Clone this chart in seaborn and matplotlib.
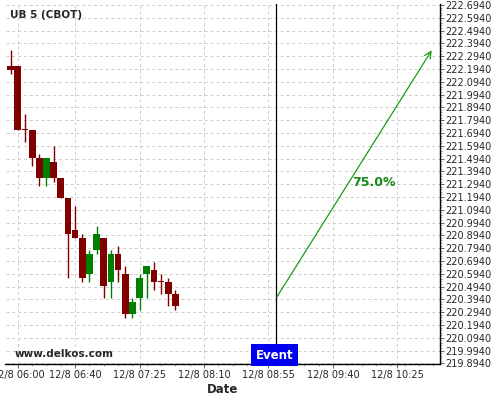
import seaborn as sns
import pandas as pd
import numpy as np
import matplotlib.pyplot as plt
from matplotlib.ticker import AutoMinorLocator, MultipleLocator
import matplotlib.transforms as mtransforms

# 5-minute candles, time in minutes after 12/8 06:00
minutes = [-5, 0, 5, 10, 15, 20, 25, 30, 35, 40, 45, 50,
           55, 60, 65, 70, 75, 80, 85, 90, 95, 100, 105, 110]
opens = [222.21875, 222.21875, 221.71875, 221.71875, 221.5, 221.34375,
         221.46875, 221.34375, 221.1875, 220.9375, 220.875, 220.59375,
         220.78125, 220.875, 220.53125, 220.75, 220.59375, 220.28125,
         220.40625, 220.59375, 220.625, 220.53125, 220.53125, 220.4375]
highs = [222.34375, 222.21875, 221.84375, 221.71875, 221.53125, 221.5,
         221.59375, 221.34375, 221.1875, 221.125, 220.90625, 220.78125,
         220.96875, 220.875, 220.78125, 220.8125, 220.65625, 220.40625,
         220.59375, 220.65625, 220.6875, 220.59375, 220.5625, 220.46875]
lows = [222.15625, 221.71875, 221.625, 221.4375, 221.28125, 221.28125,
        221.3125, 221.1875, 220.5625, 220.875, 220.53125, 220.53125,
        220.75, 220.40625, 220.40625, 220.53125, 220.25, 220.25,
        220.3125, 220.40625, 220.46875, 220.4375, 220.34375, 220.3125]
closes = [222.1875, 221.71875, 221.71875, 221.5, 221.34375, 221.5,
          221.34375, 221.1875, 220.90625, 220.875, 220.5625, 220.75,
          220.90625, 220.5, 220.75, 220.625, 220.28125, 220.375,
          220.5625, 220.65625, 220.53125, 220.53125, 220.4375, 220.34375]

tick_minutes = [0, 40, 85, 130, 175, 220, 265]
tick_labels = ["12/8 06:00", "12/8 06:40", "12/8 07:25", "12/8 08:10",
               "12/8 08:55", "12/8 09:40", "12/8 10:25"]
y_ticks = [219.894 + 0.1 * i for i in range(29)]

event_minute = 180
arrow_start = 220.397
arrow_end_minute = 290
arrow_end = 222.358
pct_label = "75.0%"

df = pd.DataFrame({"t": minutes, "open": opens, "high": highs,
                   "low": lows, "close": closes})
df["up"] = df["close"] > df["open"]
df["color"] = np.where(df["up"], "#008000", "#800000")
df["bottom"] = df[["open", "close"]].min(axis=1)
df["height"] = (df["close"] - df["open"]).abs().clip(lower=0.008)

sns.set_theme(style="whitegrid", rc={
    "grid.color": "#cccccc", "grid.linestyle": (0, (3, 3)), "grid.linewidth": 0.7,
    "axes.edgecolor": "black", "xtick.bottom": True, "ytick.right": True,
})

fig = plt.figure(figsize=(5, 4), dpi=100)
ax = fig.add_axes([0.011, 0.09, 0.868, 0.9])

ax.vlines(df["t"], df["low"], df["high"], colors=df["color"], lw=1, zorder=2)
ax.bar(df["t"], df["height"], bottom=df["bottom"], width=4.7,
       color=df["color"], linewidth=0, zorder=3)

# event marker
ax.axvline(event_minute, color="black", lw=0.9, zorder=4)
trans = mtransforms.blended_transform_factory(ax.transData, ax.transAxes)
ax.text(event_minute - 0.7, 0.024, "Event", transform=trans, ha="center", va="center",
        color="white", fontsize=8.5, fontweight="bold", zorder=5,
        bbox=dict(boxstyle="square,pad=0.38", facecolor="#0000ee", edgecolor="none"))

ax.annotate("", xy=(arrow_end_minute, arrow_end), xytext=(event_minute, arrow_start),
            arrowprops=dict(arrowstyle="->", color="#1a9a1a", lw=0.9,
                            mutation_scale=12), zorder=5)
ax.text(248.5, 221.305, pct_label, color="#138a13", fontsize=9,
        fontweight="bold", ha="center", va="center")

ax.text(0.01, 0.969, "UB 5 (CBOT)", transform=ax.transAxes, fontsize=7.5,
        fontweight="bold", va="center", ha="left")
ax.text(0.022, 0.028, "www.delkos.com", transform=ax.transAxes, fontsize=7.5,
        fontweight="bold", va="center", ha="left")

ax.set_xlim(-8.6, 294.4)
ax.set_ylim(219.889, 222.7015)
ax.set_xticks(tick_minutes)
ax.set_xticklabels(tick_labels)
ax.xaxis.set_minor_locator(MultipleLocator(10))
ax.set_yticks(y_ticks)
ax.set_yticklabels([f"{v:.4f}" for v in y_ticks])
ax.yaxis.set_minor_locator(AutoMinorLocator(5))
ax.yaxis.tick_right()

ax.tick_params(axis="both", which="major", labelsize=7, length=3, width=0.6,
               color="#555555", pad=1.5)
ax.tick_params(axis="both", which="minor", length=1.5, width=0.5, color="#888888")
ax.tick_params(axis="x", which="both", bottom=True)
ax.tick_params(axis="y", which="both", right=True, left=False)

ax.set_xlabel("Date", fontsize=8.5, fontweight="bold", labelpad=2)
ax.grid(True, which="major")

for side in ["left", "top"]:
    ax.spines[side].set_visible(False)
for side in ["right", "bottom"]:
    ax.spines[side].set_color("black")
    ax.spines[side].set_linewidth(1)

fig.savefig("out.png", dpi=100)
